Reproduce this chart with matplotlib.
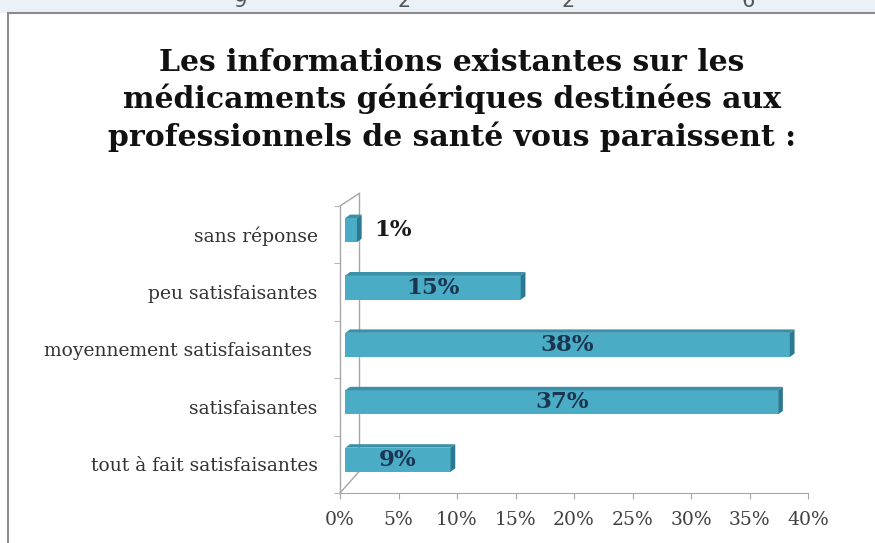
"""
Horizontal bar chart: opinion on generic drug information for health professionals.
"""
import numpy as np
import matplotlib.pyplot as plt
from matplotlib.patches import Rectangle, Polygon

categories = ["tout à fait satisfaisantes", "satisfaisantes",
              "moyennement satisfaisantes ", "peu satisfaisantes", "sans réponse"]
values = [9, 37, 38, 15, 1]
labels = ["9%", "37%", "38%", "15%", "1%"]
xticks = [0, 5, 10, 15, 20, 25, 30, 35, 40]
top_digits = ["9", "2", "2", "6"]
top_digit_x = [240, 404, 568, 748]

W, H = 875, 543
fig = plt.figure(figsize=(W / 100, H / 100), dpi=100)

# light strip at the top with cut-off digits
fig.patches.append(Rectangle((0, 1 - 13 / H), 1, 13 / H, transform=fig.transFigure,
                             facecolor="#eaf2f8", edgecolor="none", zorder=-2))
for d, xp in zip(top_digits, top_digit_x):
    fig.text(xp / W, 1 - 11 / H, d, ha="center", va="bottom", fontsize=15,
             color="#555555", family="DejaVu Sans")
# frame
fig.patches.append(Rectangle((8 / W, -0.01), 1.0, 1 - 13 / H + 0.01, transform=fig.transFigure,
                             facecolor="white", edgecolor="#8c8c8c", linewidth=1.5, zorder=-1))

fig.text(452 / W, 1 - 100 / H, "Les informations existantes sur les\n"
         "médicaments génériques destinées aux\n"
         "professionnels de santé vous paraissent :",
         ha="center", va="center", fontsize=21.5, fontweight="bold",
         family="DejaVu Serif", linespacing=1.28, color="#111111")

ax = fig.add_axes([340 / W, 50 / H, 468 / W, 287 / H])
ax.patch.set_alpha(0)
ax.set_xlim(0, 40)
ax.set_ylim(-0.5, 4.5)

face = "#4bacc6"
dark = "#2b7890"
mid = "#3a90a8"
h = 0.42
dx, dy = 0.4, 0.06
x0 = 0.45
shift = 0.08
y = np.arange(len(categories))
for yi, v, lab in zip(y, values, labels):
    yc = yi + shift
    yb, yt = yc - h / 2, yc + h / 2
    ax.add_patch(Rectangle((x0, yb), v, h, facecolor=face, edgecolor="none", zorder=3))
    ax.add_patch(Polygon([(x0, yt), (x0 + v, yt), (x0 + v + dx, yt + dy), (x0 + dx, yt + dy)],
                         closed=True, facecolor=mid, edgecolor="none", zorder=3))
    ax.add_patch(Polygon([(x0 + v, yb), (x0 + v, yt), (x0 + v + dx, yt + dy), (x0 + v + dx, yb + dy)],
                         closed=True, facecolor=dark, edgecolor="none", zorder=3))
    if v < 5:
        ax.text(x0 + v + dx + 1.1, yc, lab, ha="left", va="center", fontsize=16.5,
                fontweight="bold", family="DejaVu Serif", color="#1a1a1a", zorder=4)
    else:
        ax.text(x0 + v / 2, yc, lab, ha="center", va="center", fontsize=16.5,
                fontweight="bold", family="DejaVu Serif", color="#1b3550", zorder=4)

# 3d-ish left wall
wx, wy_top, wy_bot = 1.65, 0.22, 0.38
wall = "#a6a6a6"
ax.plot([0, 0], [-0.5, 4.5], color=wall, lw=1, zorder=2, clip_on=False)
ax.plot([wx, wx], [-0.5 + wy_bot, 4.5 + wy_top], color=wall, lw=1, zorder=2, clip_on=False)
ax.plot([0, wx], [-0.5, -0.5 + wy_bot], color=wall, lw=1, zorder=2, clip_on=False)
ax.plot([0, wx], [4.5, 4.5 + wy_top], color=wall, lw=1, zorder=2, clip_on=False)

for s in ["top", "right", "left"]:
    ax.spines[s].set_visible(False)
ax.spines["bottom"].set_color(wall)

ax.set_xticks(xticks)
ax.set_xticklabels([f"{t}%" for t in xticks], family="DejaVu Serif", fontsize=13.5, color="#404040")
ax.tick_params(axis="x", length=4, color=wall, pad=9)
ax.set_yticks(y)
ax.set_yticklabels(categories, family="DejaVu Serif", fontsize=13.5, color="#333333")
ax.tick_params(axis="y", length=0, pad=16)
ax.set_yticks(np.arange(-0.5, 4.6, 1), minor=True)
ax.tick_params(axis="y", which="minor", length=4, color=wall)

fig.savefig("out.png", dpi=100)
